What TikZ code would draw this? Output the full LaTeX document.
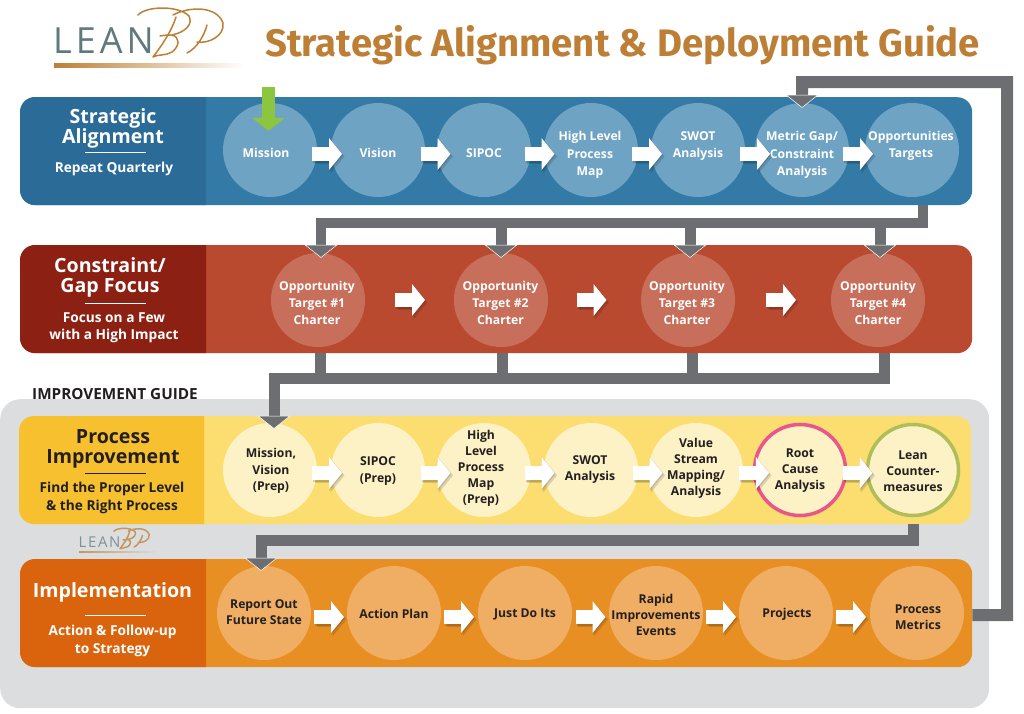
\documentclass[tikz,border=0pt]{standalone}
\usepackage{fontspec}
\setmainfont{Open Sans}
\newfontfamily\titlefont{Fira Sans}
\usetikzlibrary{arrows.meta,calc,fadings}
\definecolor{bluedark}{HTML}{2B6B97}\definecolor{blueband}{HTML}{337AA6}\definecolor{bluecirc}{HTML}{6FA3C3}
\definecolor{reddark}{HTML}{8C2113}\definecolor{redband}{HTML}{B94A2F}\definecolor{redcirc}{HTML}{C86F5C}
\definecolor{yeldark}{HTML}{F6C02F}\definecolor{yelband}{HTML}{FBDD70}\definecolor{yelcirc}{HTML}{FDF1C6}
\definecolor{ordark}{HTML}{D9640D}\definecolor{orband}{HTML}{E88F24}\definecolor{orcirc}{HTML}{EFAE63}
\definecolor{panel}{HTML}{DCDDDE}\definecolor{conn}{HTML}{6D6E71}\definecolor{ink}{HTML}{231F20}
\definecolor{bronze}{HTML}{BD7F36}\definecolor{slate}{HTML}{5F7A7D}\definecolor{leaf}{HTML}{8CC63F}
\definecolor{RubineRed}{HTML}{E9568A}\definecolor{LimeOlive}{HTML}{B0BE5A}
\tikzset{
 x=1pt,y=-1pt,
 band/.style={rounded corners=15pt,minimum width=952pt,minimum height=108pt,inner sep=0pt},
 circ/.style={circle,minimum size=94pt,inner sep=0pt},
 ctext/.style={inner sep=0pt,align=center,font=\fontsize{12.2}{#1}\selectfont\bfseries},
 ctext/.default=17.5,
 headtxt/.style={align=center,font=\fontsize{19.6}{20}\selectfont\bfseries},
 subtxt/.style={align=center,font=\fontsize{13.7}{17.5}\selectfont\bfseries},
 pipe/.style={draw=conn,line width=11pt,line join=miter},
 droptip/.style={-{Triangle[width=33pt,length=13pt,fill=conn,color=white,line width=.5pt]}},
 flowarrow/.style={draw=white,line width=14pt,-{Triangle[width=32pt,length=13pt,fill=white,color=white,line width=0pt]}},
 flowshade/.style={draw=black,opacity=.13,line width=#1,-{Triangle[width=34pt,length=14pt,fill=black,color=black,line width=0pt]}},
}
\newcommand{\flow}[4]{% from, to, dx, dy
 \foreach \sx in {1,2.5}{
  \draw[flowshade=15pt] ($(#1.east)!.5!(#2.west)+(#3-15+\sx,#4+\sx)$) -- ($(#1.east)!.5!(#2.west)+(#3+15+\sx,#4+\sx)$);}
 \draw[flowarrow] ($(#1.east)!.5!(#2.west)+(#3-15,#4)$) -- ($(#1.east)!.5!(#2.west)+(#3+15,#4)$);}
\newcommand{\leftpanel}[4]{\fill[#1] (206,#2) [rounded corners=15pt] -- (#4,#2) -- (#4,#3) [sharp corners] -- (206,#3) -- cycle;}
\newcommand{\logoart}{%
 \node[anchor=west,inner sep=0pt,text=slate,font=\fontsize{36}{36}\selectfont] (leanword) at (53,41) {\addfontfeature{LetterSpace=11}LEAN};
 \draw[bronze,line width=1.5pt,line cap=round]
   (138,15) .. controls (146,6) and (178,5) .. (189,16) .. controls (193,24) and (186,32) .. (172,35)
   .. controls (180,37) and (180,46) .. (172,52) .. controls (166,56) and (158,54) .. (153,57)
   (176,17) .. controls (172,30) and (163,44) .. (153,57)
   (160,36) .. controls (165,35) and (168,35) .. (172,35)
   (173,15) .. controls (190,6) and (217,6) .. (223,23) .. controls (225,36) and (208,44) .. (197,42)
   (207,25) .. controls (204,36) and (197,48) .. (187,53);
 \fill[bronze,path fading=east] (54,63) rectangle (243,68);}
\begin{document}
\begin{tikzpicture}
\useasboundingbox (0,0) rectangle (1024,713);
% improvement guide panel
\node[fill=panel,rounded corners=20pt,minimum width=989pt,minimum height=309pt,inner sep=0pt,anchor=north west] (guide) at (0,399) {};
\node[anchor=west,inner sep=0pt,text=ink,font=\fontsize{15.3}{16}\selectfont\bfseries] (guidelabel) at (32,394) {IMPROVEMENT GUIDE};
% logo
\logoart
\node[anchor=west,inner sep=0pt,text=bronze,font=\fontsize{38.3}{40}\selectfont\titlefont\bfseries] (title) at (265,45) {Strategic Alignment \& Deployment Guide};
% bands
\node[band,fill=blueband,anchor=north west] (sband) at (20,97) {};
\node[band,fill=redband,anchor=north west] (cband) at (20,245) {};
\node[band,fill=yelband,anchor=north west,minimum width=951pt] (pband) at (20,416) {};
\node[band,fill=orband,anchor=north west] (iband) at (20,559) {};
\leftpanel{bluedark}{97}{205}{20}
\leftpanel{reddark}{245}{353}{20}
\fill[yeldark] (204,416) [rounded corners=15pt] -- (19,416) -- (19,524) [sharp corners] -- (204,524) -- cycle;
\leftpanel{ordark}{559}{667}{20}
% small logo
\begin{scope}[shift={(56.6,525)},scale=.415,transform shape,opacity=.75]
\logoart
\end{scope}
% left texts
\node[headtxt,text=white] (h1) at (113,128.5) {Strategic\\Alignment};
\draw[white,line width=.8pt] (85,152) -- (146,152);
\node[subtxt,text=white] (s1) at (114,168.5) {Repeat Quarterly};
\node[headtxt,text=white] (h2) at (110,277.5) {Constraint/\\Gap Focus};
\draw[white,line width=.8pt] (85,303) -- (146,303);
\node[subtxt,text=white] (s2) at (114,327.5) {Focus on a Few\\with a High Impact};
\node[headtxt,text=ink] (h3) at (113,449) {Process\\Improvement};
\draw[ink,line width=.8pt] (85,473) -- (146,473);
\node[subtxt,text=ink] (s3) at (112,498) {Find the Proper Level\\\& the Right Process};
\node[headtxt,text=white] (h4) at (112.5,592) {Implementation};
\draw[white,line width=.8pt] (85,615) -- (146,615);
\node[subtxt,text=white] (s4) at (112.5,641) {Action \& Follow-up\\to Strategy};
% blue row
\begin{scope}[every node/.append style={text=white}]
\node[circ,fill=bluecirc] (a1) at (270,150) {}; \node[ctext] (a1t) at (266,153) {Mission};
\node[circ,fill=bluecirc] (a2) at (378,150) {}; \node[ctext] (a2t) at (378,153) {Vision};
\node[circ,fill=bluecirc] (a3) at (484,150) {}; \node[ctext] (a3t) at (484,153) {SIPOC};
\node[circ,fill=bluecirc] (a4) at (591,150) {}; \node[ctext] (a4t) at (590,155) {High Level\\Process\\Map};
\node[circ,fill=bluecirc] (a5) at (698,150) {}; \node[ctext] (a5t) at (698,146) {SWOT\\Analysis};
\node[circ,fill=bluecirc] (a6) at (802,150) {}; \node[ctext] (a6t) at (802,155) {Metric Gap/\\Constraint\\Analysis};
\node[circ,fill=bluecirc] (a7) at (912,150) {}; \node[ctext] (a7t) at (911,146) {Opportunities\\Targets};
\end{scope}
% red row
\begin{scope}[every node/.append style={text=white}]
\node[circ,fill=redcirc] (b1) at (318,300) {}; \node[ctext=17] (b1t) at (317,303) {Opportunity\\Target \#1\\Charter};
\node[circ,fill=redcirc] (b2) at (501,300) {}; \node[ctext=17] (b2t) at (500.5,303) {Opportunity\\Target \#2\\Charter};
\node[circ,fill=redcirc] (b3) at (688,300) {}; \node[ctext=17] (b3t) at (687,303) {Opportunity\\Target \#3\\Charter};
\node[circ,fill=redcirc] (b4) at (878,300) {}; \node[ctext=17] (b4t) at (878,303) {Opportunity\\Target \#4\\Charter};
\end{scope}
% yellow row
\begin{scope}[every node/.append style={text=ink}]
\node[circ,fill=yelcirc] (c1) at (270,470) {}; \node[ctext=16.5] (c1t) at (271,471) {Mission,\\Vision\\(Prep)};
\node[circ,fill=yelcirc] (c2) at (378,470) {}; \node[ctext=16.5] (c2t) at (378,471) {SIPOC\\(Prep)};
\node[circ,fill=yelcirc] (c3) at (484,470) {}; \node[ctext=16] (c3t) at (481,468) {High\\Level\\Process\\Map\\(Prep)};
\node[circ,fill=yelcirc] (c4) at (591,470) {}; \node[ctext=16] (c4t) at (590,470) {SWOT\\Analysis};
\node[circ,fill=yelcirc] (c5) at (696,470) {}; \node[ctext=16] (c5t) at (696,468) {Value\\Stream\\Mapping/\\Analysis};
\node[circ,fill=yelcirc,draw=RubineRed,line width=3.5pt,minimum size=91pt] (c6) at (800,470) {}; \node[ctext=16] (c6t) at (800,471) {Root\\Cause\\Analysis};
\node[circ,fill=yelcirc,draw=LimeOlive,line width=3.5pt,minimum size=91pt] (c7) at (913,470) {}; \node[ctext=16] (c7t) at (913,471) {Lean\\Counter-\\measures};
\end{scope}
% orange row
\begin{scope}[every node/.append style={text=ink}]
\node[circ,fill=orcirc] (d1) at (264,613) {}; \node[ctext=16] (d1t) at (264,612) {Report Out\\Future State};
\node[circ,fill=orcirc] (d2) at (394,613) {}; \node[ctext] (d2t) at (394,614) {Action Plan};
\node[circ,fill=orcirc] (d3) at (525,613) {}; \node[ctext] (d3t) at (525,614) {Just Do Its};
\node[circ,fill=orcirc] (d4) at (656,613) {}; \node[ctext=16] (d4t) at (656,615) {Rapid\\Improvements\\Events};
\node[circ,fill=orcirc] (d5) at (786,613) {}; \node[ctext] (d5t) at (787,614) {Projects};
\node[circ,fill=orcirc] (d6) at (917,613) {}; \node[ctext=16] (d6t) at (918,617) {Process\\Metrics};
\end{scope}
% flow arrows
\flow{a1}{a2}{3}{4}\flow{a2}{a3}{4.5}{4}\flow{a3}{a4}{2}{4}\flow{a4}{a5}{2.5}{4}\flow{a5}{a6}{5}{4}\flow{a6}{a7}{1}{4}
\flow{b1}{b2}{.5}{0}\flow{b2}{b3}{-3}{0}\flow{b3}{b4}{-2}{0}
\flow{c1}{c2}{3}{3}\flow{c2}{c3}{4.5}{3}\flow{c3}{c4}{2}{3}\flow{c4}{c5}{4}{3}\flow{c5}{c6}{6}{3}\flow{c6}{c7}{1}{3}
\flow{d1}{d2}{0}{4}\flow{d2}{d3}{-.5}{4}\flow{d3}{d4}{0}{4}\flow{d4}{d5}{0}{4}\flow{d5}{d6}{-.5}{4}
% connectors
\coordinate (fb1) at (1007,615);\coordinate (fb2) at (1007,82);\coordinate (fb3) at (802,82);
\draw[pipe,line width=12pt,droptip] ([yshift=-2pt]iband.east) -- (fb1) -- (fb2) -- (fb3) -- ([yshift=-5pt]a6.north);
\coordinate (s0) at (923,223);\coordinate (sL) at (321,223);
\draw[pipe,line width=10pt,droptip] (s0 |- sband.south) -- (s0) -- (sL) -- ([xshift=3pt,yshift=-5pt]b1.north);
\draw[pipe,droptip] (b2.north |- s0) -- ([yshift=-5pt]b2.north);
\draw[pipe,droptip] (690,223) -- ([xshift=2pt,yshift=-5pt]b3.north);
\draw[pipe,droptip] (880,223) -- ([xshift=2pt,yshift=-5pt]b4.north);
\coordinate (t0) at (884,378.5);\coordinate (tL) at (274,378.5);
\draw[pipe,droptip] (884,353) -- (t0) -- (tL) -- ([xshift=4pt,yshift=-6pt]c1.north);
\draw[pipe] (320,353) -- (320,378);\draw[pipe] (502,353) -- (502,378);\draw[pipe] (692,353) -- (692,378);
\coordinate (u0) at (913,540.5);\coordinate (uL) at (261,540.5);
\draw[pipe,droptip] (u0 |- pband.south) -- (u0) -- (uL) -- ([xshift=-3pt,yshift=-5pt]d1.north);
% green arrow
\draw[draw=leaf,line width=13pt,-{Triangle[width=33pt,length=13pt,fill=leaf,color=leaf,line width=0pt]}] (268.5,87) -- ([xshift=-1.5pt,yshift=-28pt]a1.north);
\end{tikzpicture}
\end{document}
